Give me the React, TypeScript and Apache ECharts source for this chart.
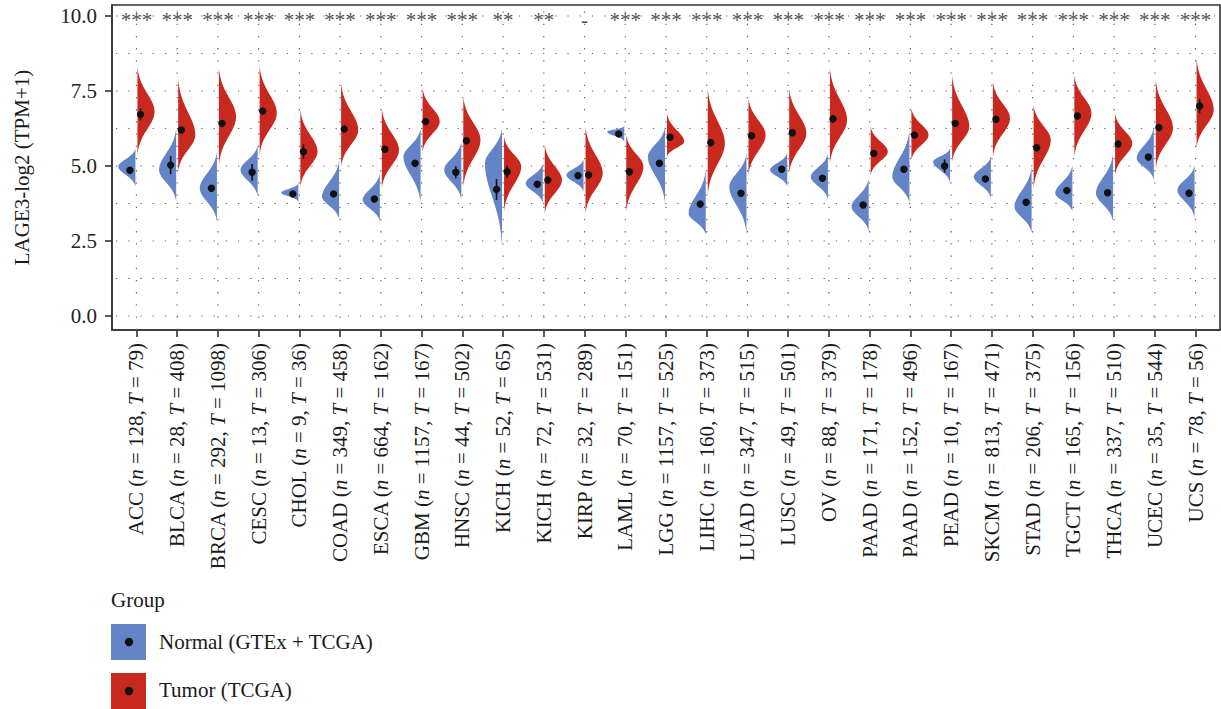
import React, { useEffect, useRef } from "react";
import * as echarts from "echarts";

const categories = ["ACC","BLCA","BRCA","CESC","CHOL","COAD","ESCA","GBM","HNSC","KICH","KICH","KIRP","LAML","LGG","LIHC","LUAD","LUSC","OV","PAAD","PAAD","PEAD","SKCM","STAD","TGCT","THCA","UCEC","UCS"];
const normalN = [128,28,292,13,9,349,664,1157,44,52,72,32,70,1157,160,347,49,88,171,152,10,813,206,165,337,35,78];
const tumorN = [79,408,1098,306,36,458,162,167,502,65,531,289,151,525,373,515,501,379,178,496,167,471,375,156,510,544,56];
const significance = ["***","***","***","***","***","***","***","***","***","**","**","-","***","***","***","***","***","***","***","***","***","***","***","***","***","***","***"];

// Normal (GTEx + TCGA) half-violins: lower end, widest point, upper end; summary point and error half-range
const normalLow = [4.31,3.81,3.14,3.98,3.81,3.22,3.14,3.76,3.87,2.31,3.76,4.14,5.81,3.76,2.70,2.76,4.31,3.87,2.81,3.76,4.44,3.92,2.76,3.48,3.14,4.53,3.26];
const normalMode = [4.98,4.87,4.26,4.87,4.11,3.98,3.87,5.31,4.87,5.09,4.42,4.70,6.14,5.31,3.42,4.31,4.87,4.64,3.64,4.64,5.14,4.64,3.64,4.09,4.09,5.26,4.20];
const normalHigh = [5.59,6.26,5.48,5.70,4.42,5.20,4.76,6.26,5.81,6.26,5.09,5.22,6.33,6.31,4.87,5.42,5.44,5.42,4.59,6.20,5.59,5.33,4.98,5.03,5.42,6.31,5.03];
const normalPoint = [4.86,5.03,4.26,4.79,4.07,4.07,3.90,5.09,4.79,4.22,4.39,4.68,6.07,5.09,3.73,4.09,4.89,4.59,3.70,4.89,5.00,4.57,3.79,4.18,4.11,5.30,4.09];
const normalErr = [0.08,0.30,0.08,0.28,0.10,0.08,0.08,0.08,0.20,0.35,0.10,0.08,0.06,0.08,0.10,0.10,0.08,0.08,0.08,0.08,0.22,0.06,0.08,0.08,0.08,0.10,0.12];

// Tumor (TCGA) half-violins
const tumorLow = [5.37,4.81,5.03,5.37,4.31,4.98,4.26,5.48,4.31,3.48,3.42,3.42,3.48,5.31,4.03,4.70,4.76,5.09,4.70,5.20,5.14,5.31,4.26,5.31,4.70,4.92,5.59];
const tumorMode = [6.81,6.03,6.64,6.76,5.48,6.20,5.53,6.48,5.87,4.98,4.53,4.76,4.98,5.81,5.76,6.03,6.09,6.53,5.48,6.03,6.31,6.59,5.87,6.76,5.76,6.26,6.87];
const tumorHigh = [8.31,7.92,8.26,8.33,6.87,7.76,6.92,7.59,7.31,5.98,5.70,6.31,6.03,6.76,7.59,7.26,7.59,8.26,6.31,6.92,8.03,7.81,7.03,8.03,6.76,7.87,8.59];
const tumorPoint = [6.72,6.20,6.42,6.83,5.48,6.23,5.56,6.48,5.84,4.81,4.53,4.70,4.81,5.96,5.78,6.01,6.11,6.57,5.42,6.03,6.42,6.56,5.61,6.67,5.73,6.28,7.00];
const tumorErr = [0.20,0.08,0.08,0.10,0.24,0.08,0.10,0.08,0.10,0.20,0.08,0.10,0.12,0.08,0.12,0.10,0.08,0.12,0.08,0.08,0.10,0.08,0.10,0.12,0.08,0.10,0.24];

const yTicks = [0, 2.5, 5, 7.5, 10];
const yGrid = [0, 1.25, 2.5, 3.75, 5, 6.25, 7.5, 8.75, 10];
const groupNames = ["Normal (GTEx + TCGA)", "Tumor (TCGA)"];

const BLUE = "#6384C6";
const RED = "#C8281E";
const FONT = "Liberation Serif";
const HALF_WIDTH = 0.42;
const xTicks = categories.map((_, i) => i);

function makeViolin(side: number, low: number[], mode: number[], high: number[], pt: number[], err: number[], color: string, ptOffset: number) {
  return (params: any, api: any) => {
    const i = api.value(0);
    const lo = low[i], md = mode[i], hi = high[i];
    const unit = api.size([1, 0])[0];
    const wpx = HALF_WIDTH * unit;
    const steps = 60;
    const e = Math.exp(-3.2);
    const pts: number[][] = [];
    for (let k = 0; k <= steps; k++) {
      const y = lo + ((hi - lo) * k) / steps;
      const t = y < md ? (md - y) / (md - lo) : (y - md) / (hi - md);
      const f = Math.max(0, (Math.exp(-3.2 * t * t) - e) / (1 - e));
      const p = api.coord([i, y]);
      pts.push([p[0] + side * (1 + wpx * f), p[1]]);
    }
    const pHi = api.coord([i, hi]);
    const pLo = api.coord([i, lo]);
    pts.push([pHi[0] + side, pHi[1]]);
    pts.push([pLo[0] + side, pLo[1]]);
    const c = api.coord([i + ptOffset, pt[i]]);
    const eTop = api.coord([i + ptOffset, pt[i] + err[i]]);
    const eBot = api.coord([i + ptOffset, pt[i] - err[i]]);
    return {
      type: "group",
      children: [
        { type: "polygon", shape: { points: pts }, style: { fill: color, stroke: "none" } },
        { type: "line", shape: { x1: c[0], y1: eTop[1], x2: c[0], y2: eBot[1] }, style: { stroke: "#111", lineWidth: 1.6 } },
        { type: "circle", shape: { cx: c[0], cy: c[1], r: 3.7 }, style: { fill: "#111" } },
      ],
    };
  };
}

export default function App() {
  const ref = useRef<HTMLDivElement>(null);
  useEffect(() => {
    if (!ref.current) return;
    const chart = echarts.init(ref.current, null, { renderer: "svg" });
    const dotted = { stroke: "#666", lineWidth: 1.2, lineDash: [1.3, 10.9] };
    const option: any = {
      animation: false,
      backgroundColor: "#fff",
      grid: { left: 112, right: 1, top: 5, bottom: 379, show: true, borderColor: "#333", borderWidth: 1.6, backgroundColor: "transparent" },
      xAxis: {
        type: "value",
        min: -0.6,
        max: 26.6,
        axisLine: { show: true, onZero: false, lineStyle: { color: "#333", width: 1.6 } },
        axisTick: { show: true, length: 7, customValues: xTicks, lineStyle: { color: "#333", width: 1.6 } },
        axisLabel: {
          customValues: xTicks,
          rotate: 90,
          margin: 13,
          fontFamily: FONT,
          fontSize: 21,
          color: "#1a1a1a",
          formatter: (v: number) => {
            const i = Math.round(v);
            return `${categories[i]} ({i|n} = ${normalN[i]}, {i|T} = ${tumorN[i]})`;
          },
          rich: { i: { fontStyle: "italic", fontFamily: FONT, fontSize: 21, color: "#1a1a1a" } },
        },
        splitLine: { show: false },
      },
      yAxis: {
        type: "value",
        min: -0.467,
        max: 10.367,
        name: "LAGE3-log2 (TPM+1)",
        nameLocation: "middle",
        nameGap: 80,
        nameTextStyle: { fontFamily: FONT, fontSize: 21, color: "#1a1a1a" },
        axisLine: { show: true, onZero: false, lineStyle: { color: "#333", width: 1.6 } },
        axisTick: { show: true, length: 7, customValues: yTicks, lineStyle: { color: "#333", width: 1.6 } },
        axisLabel: {
          customValues: yTicks,
          margin: 15,
          fontFamily: FONT,
          fontSize: 21,
          color: "#222",
          formatter: (v: number) => v.toFixed(1),
        },
        splitLine: { show: false },
      },
      series: [
        {
          type: "custom",
          name: "hgrid",
          silent: true,
          data: yGrid.map((v) => [0, v]),
          renderItem: (params: any, api: any) => {
            const y = api.coord([0, api.value(1)])[1];
            const cs = params.coordSys;
            return { type: "line", shape: { x1: cs.x + 4, y1: y, x2: cs.x + cs.width, y2: y }, style: dotted };
          },
          z: 1,
        },
        {
          type: "custom",
          name: "vgrid",
          silent: true,
          data: xTicks.map((i) => [i, 0]),
          renderItem: (params: any, api: any) => {
            const x = api.coord([api.value(0), 0])[0];
            const cs = params.coordSys;
            return { type: "line", shape: { x1: x, y1: cs.y + cs.height, x2: x, y2: cs.y + 6 }, style: dotted };
          },
          z: 1,
        },
        {
          type: "custom",
          name: groupNames[0],
          data: xTicks.map((i) => [i, normalMode[i]]),
          renderItem: makeViolin(-1, normalLow, normalMode, normalHigh, normalPoint, normalErr, BLUE, -0.16),
          z: 2,
        },
        {
          type: "custom",
          name: groupNames[1],
          data: xTicks.map((i) => [i, tumorMode[i]]),
          renderItem: makeViolin(1, tumorLow, tumorMode, tumorHigh, tumorPoint, tumorErr, RED, 0.1),
          z: 3,
        },
        {
          type: "custom",
          name: "signif",
          data: xTicks.map((i) => [i, 10]),
          renderItem: (params: any, api: any) => {
            const i = api.value(0);
            const p = api.coord([i, 10]);
            return {
              type: "text",
              x: p[0],
              y: p[1] + 4,
              style: { text: significance[i], fill: "#555", fontSize: 21, fontFamily: FONT, align: "center", verticalAlign: "middle" },
            };
          },
          z: 4,
        },
      ],
      graphic: [
        { type: "text", x: 111, y: 600, style: { text: "Group", fontSize: 21, fontFamily: FONT, fill: "#1a1a1a", verticalAlign: "middle" } },
        { type: "rect", shape: { x: 111, y: 624, width: 35, height: 36 }, style: { fill: BLUE } },
        { type: "circle", shape: { cx: 129, cy: 642, r: 4.2 }, style: { fill: "#111" } },
        { type: "text", x: 159, y: 642, style: { text: groupNames[0], fontSize: 21, fontFamily: FONT, fill: "#1a1a1a", verticalAlign: "middle" } },
        { type: "rect", shape: { x: 111, y: 673, width: 35, height: 37 }, style: { fill: RED } },
        { type: "circle", shape: { cx: 129, cy: 691, r: 4.2 }, style: { fill: "#111" } },
        { type: "text", x: 159, y: 690, style: { text: groupNames[1], fontSize: 21, fontFamily: FONT, fill: "#1a1a1a", verticalAlign: "middle" } },
      ],
    };
    chart.setOption(option);
    return () => chart.dispose();
  }, []);
  return <div ref={ref} style={{ position: "absolute", left: 0, top: 0, width: 1221, height: 709 }} />;
}
